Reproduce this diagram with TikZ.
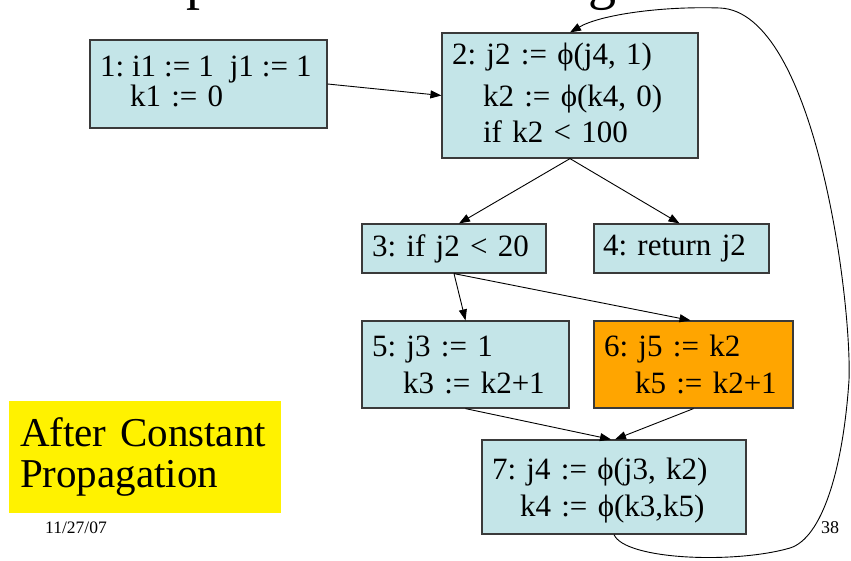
\documentclass[tikz,border=0pt]{standalone}
\usepackage{fontspec}
\setmainfont{Liberation Serif}
\usetikzlibrary{arrows.meta,calc}
\definecolor{boxfill}{HTML}{C4E5E8}
\definecolor{boxline}{HTML}{3A3A3A}
\definecolor{orangefill}{HTML}{FFA500}
\newcommand{\oneline}[1]{\makebox[0pt][l]{#1}}
\newcommand{\lowpad}{\rule[-6pt]{0pt}{6pt}}
\newcommand{\highpad}{\rule{0pt}{28pt}}
\begin{document}
\frenchspacing
\begin{tikzpicture}[x=1pt,y=-1pt,
  blk/.style={draw=boxline,line width=1.2pt,fill=boxfill,align=left,inner xsep=10pt,inner ysep=0pt},
  arr/.style={line width=0.9pt,-{Triangle[length=11pt,width=8pt]}},
  plain/.style={anchor=base west,inner sep=0pt}]
\useasboundingbox (0,0) rectangle (851,560);
\begin{scope}
\clip (0,0) rectangle (851,560);
\node[plain,font=\fontsize{56}{60}\selectfont] (tp) at (186,-2) {p};
\node[plain,font=\fontsize{56}{60}\selectfont] (tg) at (588,-2) {g};
\end{scope}

\node[blk,text width=217pt,minimum height=88pt,font=\fontsize{31}{30}\selectfont] (b1) at (208.5,84)
  {\oneline{\spaceskip=8pt 1: i1 := 1\ \ j1 := 1}\\\oneline{\hspace*{30pt}k1 := 0}\lowpad};
\node[blk,text width=236pt,minimum height=125pt,font=\fontsize{31}{36}\selectfont] (b2) at (570,95.5)
  {\oneline{2: j2 := ϕ(j4, 1)}\\[6pt]\oneline{\hspace*{31pt}k2 := ϕ(k4, 0)}\\\oneline{\hspace*{31pt}if k2 < 100}\lowpad};
\node[blk,text width=164pt,minimum height=49pt,font=\fontsize{31}{37}\selectfont] (b3) at (454,248.5)
  {\oneline{3: if j2 < 20}};
\node[blk,text width=157pt,inner xsep=9pt,minimum height=49pt,font=\fontsize{31}{37}\selectfont] (b4) at (681.5,248.5)
  {\oneline{4: return j2}};
\node[blk,text width=187pt,minimum height=87pt,font=\fontsize{31}{37}\selectfont] (b5) at (465.5,364.5)
  {\oneline{5: j3 := 1}\\\oneline{\hspace*{31pt}k3 := k2+1}};
\node[blk,fill=orangefill,text width=179pt,minimum height=87pt,font=\fontsize{31}{37}\selectfont] (b6) at (693.5,364.5)
  {\oneline{6: j5 := k2}\\\oneline{\hspace*{31pt}k5 := k2+1}};
\node[blk,text width=244pt,minimum height=94pt,font=\fontsize{31}{37}\selectfont] (b7) at (614,487)
  {\oneline{\highpad 7: j4 := ϕ(j3, k2)}\\\oneline{\hspace*{28pt}k4 := ϕ(k3,k5)}};

\node[fill=yellow,minimum width=272pt,minimum height=112pt,text width=250pt,inner xsep=11pt,inner ysep=0pt,align=left,font=\fontsize{41}{41}\selectfont] (note) at (145,457)
  {\oneline{After Constant}\\\oneline{Propagation}};
\node[plain,font=\fontsize{17.5}{20}\selectfont] (date) at (45,533) {11/27/07};
\node[plain,font=\fontsize{18}{20}\selectfont] (pg) at (821,533) {38};

\draw[arr] (b1.east) -- (b2.west);
\draw[arr] (b2.south) -- ([xshift=5pt]b3.north);
\draw[arr] (b2.south) -- ([xshift=-2pt]b4.north);
\draw[arr] (b3.south) -- (b5.north);
\draw[arr] (b3.south) -- ([xshift=-3pt]b6.north);
\draw[arr] (b5.south) -- ([xshift=-3pt]b7.north);
\draw[arr] (b6.south) -- ([xshift=1pt]b7.north);
\draw[arr] (b7.south) .. controls (625,560) and (735,564) .. (790,548)
  .. controls (822,538) and (843,470) .. (849,380)
  .. controls (852,300) and (815,12) .. (720,8)
  .. controls (660,6) and (600,15) .. (b2.north);
\end{tikzpicture}
\end{document}
